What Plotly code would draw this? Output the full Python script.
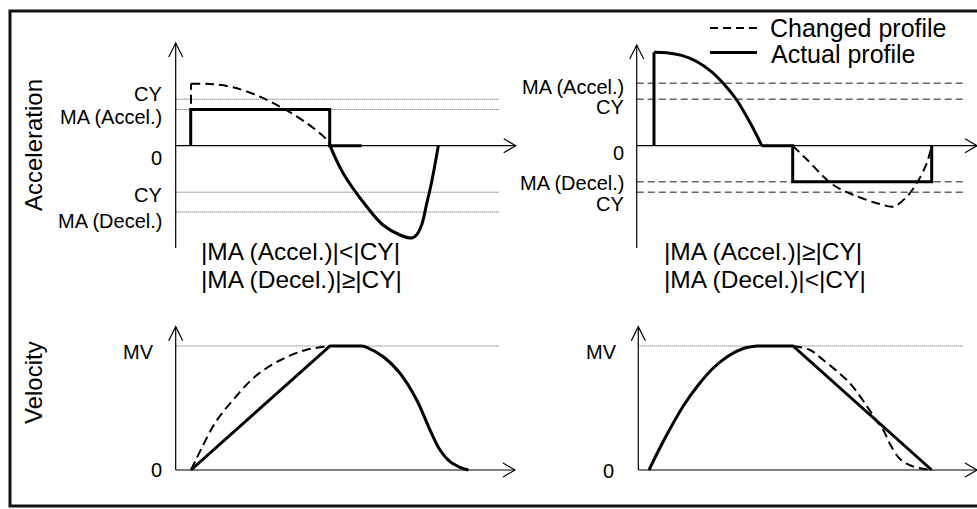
import plotly.graph_objects as go

W, H = 977, 509
FONT = "Liberation Sans, Arial, sans-serif"
SCALE = 10.0  # pixels per panel unit (both axes)

# ---------------- level values (panel units) ----------------
# left column: |MA (Accel.)| < |CY|, |MA (Decel.)| >= |CY|
accL_CY = 4.65
accL_MA_acc = 3.62
accL_MA_dec = -6.63
# right column: |MA (Accel.)| >= |CY|, |MA (Decel.)| < |CY|
accR_CY = 4.65
accR_MA_acc = 6.24
accR_MA_dec = -3.6
MV = 12.4

# ---------------- acceleration, left column ----------------
accL_step_t = [1.5, 1.5, 15.4, 15.4, 18.6]
accL_step_a = [0, accL_MA_acc, accL_MA_acc, 0, 0]
accL_dec_t = [15.43, 16.73, 19.13, 20.73, 22.43, 23.63, 24.1, 24.6, 25.1, 25.6, 26.26]
accL_dec_a = [0, -2.73, -6.13, -7.93, -8.93, -9.23, -8.9, -7.9, -5.8, -3.6, 0]
accL_chg_jump_t = [1.53, 1.53]
accL_chg_jump_a = [0, 6.2]
accL_chg_t = [1.53, 3.43, 5.73, 8.43, 10.73, 13.13, 15.13, 15.43]
accL_chg_a = [6.2, 6.17, 5.84, 4.9, 3.74, 2.24, 0.57, 0]

# ---------------- acceleration, right column ----------------
accR_jump_t = [1.73, 1.73]
accR_jump_a = [0, 9.34]
accR_acc_t = [1.73, 3.0, 4.5, 6.0, 7.5, 9.0, 10.0, 11.0, 12.0, 12.5]
accR_acc_a = [9.34, 9.3, 9.03, 8.42, 7.38, 5.85, 4.57, 2.91, 1.04, 0]
accR_step_t = [12.5, 15.6, 15.6, 29.5, 29.5]
accR_step_a = [0, 0, accR_MA_dec, accR_MA_dec, 0]
accR_chg_t = [15.6, 17.07, 19.66, 23.0, 24.4, 25.66, 27.0, 28.0, 29.0, 29.5]
accR_chg_a = [0, -1.43, -3.93, -5.43, -5.85, -6.1, -5.1, -3.76, -1.76, 0]

# ---------------- velocity, left column ----------------
velL_lin_t = [1.53, 15.43, 18.63]
velL_lin_v = [0, MV, MV]
velL_dec_t = [18.63, 19.1, 20.76, 22.43, 24.1, 25.43, 26.43, 27.43, 28.43, 29.26]
velL_dec_v = [MV, 12.27, 11.33, 9.67, 7.0, 4.0, 2.0, 0.83, 0.27, 0]
velL_chg_t = [1.53, 2.6, 4.0, 5.73, 8.0, 10.5, 13.0, 15.43]
velL_chg_v = [0, 2.2, 4.8, 7.0, 9.4, 11.0, 12.0, MV]

# ---------------- velocity, right column ----------------
velR_acc_t = [1.07, 2.0, 3.0, 4.5, 6.0, 7.5, 9.0, 10.5, 11.87]
velR_acc_v = [0, 1.9, 3.8, 6.4, 8.5, 10.2, 11.4, 12.15, MV]
velR_lin_t = [11.87, 15.47, 29.34]
velR_lin_v = [MV, MV, 0]
velR_chg_t = [15.47, 17.17, 18.5, 21.17, 22.84, 23.84, 24.5, 25.17, 26.17, 27.5, 29.34]
velR_chg_v = [MV, 12.0, 11.0, 8.67, 6.4, 4.9, 4.0, 2.6, 1.1, 0.35, 0]

# panel origins in pixels (where time = 0 and value = 0)
panels = {
    "accL": dict(ax="x", ay="y", ox=175.7, oy=145.7),
    "accR": dict(ax="x2", ay="y2", ox=636.7, oy=145.7),
    "velL": dict(ax="x3", ay="y3", ox=175.7, oy=470.0),
    "velR": dict(ax="x4", ay="y4", ox=638.3, oy=470.0),
}

fig = go.Figure()

SOLID = dict(color="black", width=3)
DASHED = dict(color="black", width=2, dash="9px,5px")


def add_line(panel, t, v, style, smooth=False):
    p = panels[panel]
    fig.add_trace(go.Scatter(
        x=t, y=v, mode="lines", xaxis=p["ax"], yaxis=p["ay"],
        line=dict(**style, shape="spline" if smooth else "linear"),
        hoverinfo="skip", showlegend=False,
    ))


# changed (dashed) profiles first, actual (solid) on top
add_line("accL", accL_chg_jump_t, accL_chg_jump_a, DASHED)
add_line("accL", accL_chg_t, accL_chg_a, DASHED, smooth=True)
add_line("accL", accL_step_t, accL_step_a, SOLID)
add_line("accL", accL_dec_t, accL_dec_a, SOLID, smooth=True)

add_line("accR", accR_chg_t, accR_chg_a, DASHED, smooth=True)
add_line("accR", accR_jump_t, accR_jump_a, SOLID)
add_line("accR", accR_acc_t, accR_acc_a, SOLID, smooth=True)
add_line("accR", accR_step_t, accR_step_a, SOLID)

add_line("velL", velL_chg_t, velL_chg_v, DASHED, smooth=True)
add_line("velL", velL_lin_t, velL_lin_v, SOLID)
add_line("velL", velL_dec_t, velL_dec_v, SOLID, smooth=True)

add_line("velR", velR_chg_t, velR_chg_v, DASHED, smooth=True)
add_line("velR", velR_acc_t, velR_acc_v, SOLID, smooth=True)
add_line("velR", velR_lin_t, velR_lin_v, SOLID)

shapes = []
AXIS = dict(color="black", width=1.2)


def axis_arrows(panel, y_lo, y_hi, t_hi):
    p = panels[panel]
    xr, yr = p["ax"], p["ay"]
    shapes.append(dict(type="line", xref=xr, yref=yr, x0=0, x1=0, y0=y_lo, y1=y_hi, line=AXIS))
    shapes.append(dict(type="line", xref=xr, yref=yr, x0=0, x1=t_hi, y0=0, y1=0, line=AXIS))
    shapes.append(dict(type="path", xref=xr, yref=yr, line=AXIS,
                       path=f"M -0.7 {y_hi - 1.4} L 0 {y_hi} L 0.7 {y_hi - 1.4}"))
    shapes.append(dict(type="path", xref=xr, yref=yr, line=AXIS,
                       path=f"M {t_hi - 1.2} 0.7 L {t_hi} 0 L {t_hi - 1.2} -0.7"))


def level(panel, v, t_end, style):
    p = panels[panel]
    shapes.append(dict(type="line", xref=p["ax"], yref=p["ay"], x0=0, x1=t_end, y0=v, y1=v,
                       line=style, layer="below"))


DOTTED = dict(color="#555", width=1, dash="1px,1px")
GREYDASH = dict(color="#666", width=1.5, dash="7px,4px")

for v in (accL_CY, accL_MA_acc, -accL_CY, accL_MA_dec):
    level("accL", v, 32.4, DOTTED)
for v in (accR_MA_acc, accR_CY, accR_MA_dec, -accR_CY):
    level("accR", v, 32.6, GREYDASH)
level("velL", MV, 32.4, DOTTED)
level("velR", MV, 32.47, DOTTED)

axis_arrows("accL", -10.23, 10.27, 34.0)
axis_arrows("accR", -10.23, 10.07, 34.03)
axis_arrows("velL", 0, 14.33, 33.93)
axis_arrows("velR", 0, 14.33, 33.87)


def px(x):
    return x / W


def py(y):
    return 1 - y / H


# outer frame (open to the right edge)
shapes.append(dict(type="rect", xref="paper", yref="paper",
                   x0=px(10), x1=px(W + 20), y0=py(506), y1=py(11),
                   line=dict(color="#111", width=3)))
# legend samples
shapes.append(dict(type="line", xref="paper", yref="paper", x0=px(710), x1=px(757),
                   y0=py(28), y1=py(28), line=dict(color="black", width=2, dash="8px,5px")))
shapes.append(dict(type="line", xref="paper", yref="paper", x0=px(710), x1=px(757),
                   y0=py(52.5), y1=py(52.5), line=dict(color="black", width=3)))

annotations = []


def text(s, x, y, size, anchor="right", angle=0):
    annotations.append(dict(text=s, x=px(x), y=py(y), xref="paper", yref="paper",
                            xanchor=anchor, yanchor="middle", showarrow=False,
                            textangle=angle, font=dict(family=FONT, size=size, color="black")))


# level names
for s, x, y in [("CY", 164, 94), ("MA (Accel.)", 164, 117.5), ("0", 164, 157.5),
                ("CY", 164, 195), ("MA (Decel.)", 164, 221),
                ("MA (Accel.)", 626, 86.5), ("CY", 626, 107.5), ("0", 626, 152.5),
                ("MA (Decel.)", 626, 183.5), ("CY", 626, 204),
                ("MV", 156, 351.7), ("0", 164, 470),
                ("MV", 619, 351.7), ("0", 616, 470.7)]:
    text(s, x, y, 20)

text("Acceleration", 33, 145, 24, anchor="center", angle=-90)
text("Velocity", 33, 383, 24, anchor="center", angle=-90)

text("|MA (Accel.)|<|CY|", 199, 251.5, 24.5, anchor="left")
text("|MA (Decel.)|≥|CY|", 199, 279, 24.5, anchor="left")
text("|MA (Accel.)|≥|CY|", 662, 251.5, 24.5, anchor="left")
text("|MA (Decel.)|<|CY|", 662, 279, 24.5, anchor="left")

text("Changed profile", 768, 28.5, 25, anchor="left")
text("Actual profile", 769, 54, 25, anchor="left")

layout = dict(
    width=W, height=H, margin=dict(l=0, r=0, t=0, b=0),
    paper_bgcolor="white", plot_bgcolor="rgba(0,0,0,0)",
    showlegend=False, shapes=shapes, annotations=annotations,
)
for i, (name, p) in enumerate(panels.items()):
    sfx = "" if i == 0 else str(i + 1)
    layout["xaxis" + sfx] = dict(
        domain=[0, 1], anchor="y" + sfx, visible=False, fixedrange=True,
        range=[-p["ox"] / SCALE, (W - p["ox"]) / SCALE])
    layout["yaxis" + sfx] = dict(
        domain=[0, 1], anchor="x" + sfx, visible=False, fixedrange=True,
        range=[-(H - p["oy"]) / SCALE, p["oy"] / SCALE])

fig.update_layout(**layout)
fig.write_html("out.html")
